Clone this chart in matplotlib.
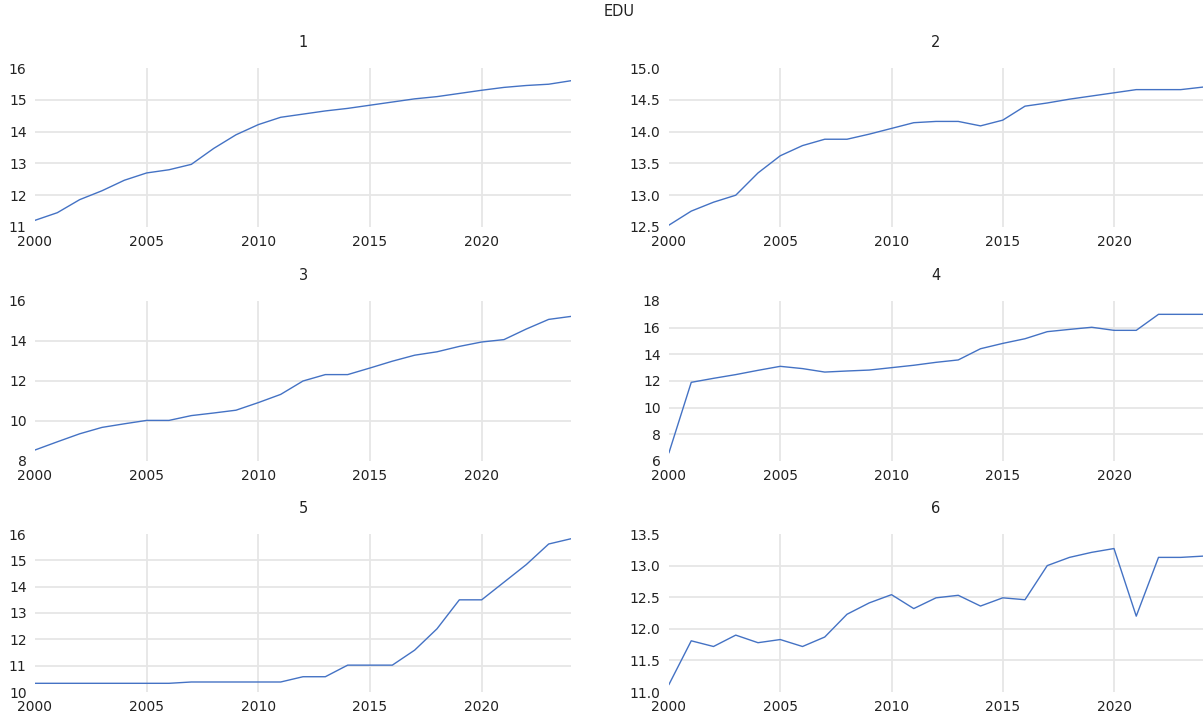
import matplotlib
matplotlib.use("Agg")
import matplotlib.pyplot as plt

years = list(range(2000, 2025))

edu_1 = [11.21, 11.45, 11.86, 12.14, 12.47, 12.70, 12.80, 12.97, 13.47, 13.90,
         14.22, 14.45, 14.55, 14.65, 14.73, 14.83, 14.93, 15.03, 15.10, 15.20,
         15.30, 15.39, 15.45, 15.49, 15.60]
edu_2 = [12.53, 12.75, 12.89, 13.00, 13.35, 13.62, 13.78, 13.88, 13.88, 13.96,
         14.05, 14.14, 14.16, 14.16, 14.09, 14.18, 14.40, 14.45, 14.51, 14.56,
         14.61, 14.66, 14.66, 14.66, 14.70]
edu_3 = [8.55, 8.96, 9.36, 9.68, 9.86, 10.03, 10.03, 10.27, 10.40, 10.54,
         10.92, 11.33, 12.00, 12.32, 12.32, 12.65, 12.99, 13.29, 13.46, 13.73,
         13.95, 14.07, 14.60, 15.08, 15.23]
edu_4 = [6.63, 11.90, 12.20, 12.48, 12.80, 13.10, 12.93, 12.67, 12.75, 12.82,
         13.00, 13.18, 13.40, 13.58, 14.42, 14.82, 15.17, 15.70, 15.87, 16.03,
         15.80, 15.80, 17.00, 17.00, 17.00]
edu_5 = [10.33, 10.33, 10.33, 10.33, 10.33, 10.33, 10.33, 10.38, 10.38, 10.38,
         10.38, 10.38, 10.58, 10.58, 11.02, 11.02, 11.02, 11.59, 12.40, 13.50,
         13.50, 14.17, 14.84, 15.62, 15.82]
edu_6 = [11.12, 11.81, 11.72, 11.90, 11.78, 11.83, 11.72, 11.87, 12.23, 12.41,
         12.54, 12.32, 12.49, 12.53, 12.36, 12.49, 12.46, 13.00, 13.13, 13.21,
         13.27, 12.20, 13.13, 13.13, 13.15]

series = [edu_1, edu_2, edu_3, edu_4, edu_5, edu_6]
panel_titles = ["1", "2", "3", "4", "5", "6"]
ylims = [(11, 16), (12.5, 15.0), (8, 16), (6, 18), (10, 16), (11.0, 13.5)]
yticks = [[11, 12, 13, 14, 15, 16],
          [12.5, 13.0, 13.5, 14.0, 14.5, 15.0],
          [8, 10, 12, 14, 16],
          [6, 8, 10, 12, 14, 16, 18],
          [10, 11, 12, 13, 14, 15, 16],
          [11.0, 11.5, 12.0, 12.5, 13.0, 13.5]]
ytick_fmt = ["{:.0f}", "{:.1f}", "{:.0f}", "{:.0f}", "{:.0f}", "{:.1f}"]
xticks = [2000, 2005, 2010, 2015, 2020]

plt.rcParams['font.family'] = ['DejaVu Sans']

fig = plt.figure(figsize=(12.04, 7.16), dpi=100)
W, H = 1204, 716
cols = [(35, 571), (669, 1203)]
rows = [(68, 227), (301, 461), (534, 692)]

line_color = "#4472C4"
grid_color = "#e6e6e6"

for i, data in enumerate(series):
    r, c = divmod(i, 2)
    x0, x1 = cols[c]
    y0, y1 = rows[r]
    ax = fig.add_axes([x0 / W, 1 - y1 / H, (x1 - x0) / W, (y1 - y0) / H])
    ax.plot(years, data, color=line_color, linewidth=1.0)
    ax.set_xlim(2000, 2024)
    ax.set_ylim(*ylims[i])
    ax.set_xticks(xticks)
    ax.set_yticks(yticks[i])
    ax.set_yticklabels([ytick_fmt[i].format(v) for v in yticks[i]])
    ax.grid(True, color=grid_color, linewidth=1.3)
    ax.set_axisbelow(True)
    # hide gridlines lying on the plot boundary
    lo, hi = ylims[i]
    for v, gl in zip(yticks[i], ax.get_ygridlines()):
        if abs(v - lo) < 1e-9 or abs(v - hi) < 1e-9:
            gl.set_visible(False)
    for v, gl in zip(xticks, ax.get_xgridlines()):
        if v == 2000:
            gl.set_visible(False)
    for s in ax.spines.values():
        s.set_visible(False)
    ax.tick_params(axis='both', length=0, labelsize=10, colors='#222222')
    ax.tick_params(axis='x', pad=5.5)
    ax.tick_params(axis='y', pad=6)
    ax.set_title(panel_titles[i], fontsize=10.5, pad=15, color='#222222')

fig.suptitle("EDU", x=619 / W, y=1 - 4 / H, va='top', fontsize=10.5, color='#222222')

fig.savefig("out.png", dpi=100)
